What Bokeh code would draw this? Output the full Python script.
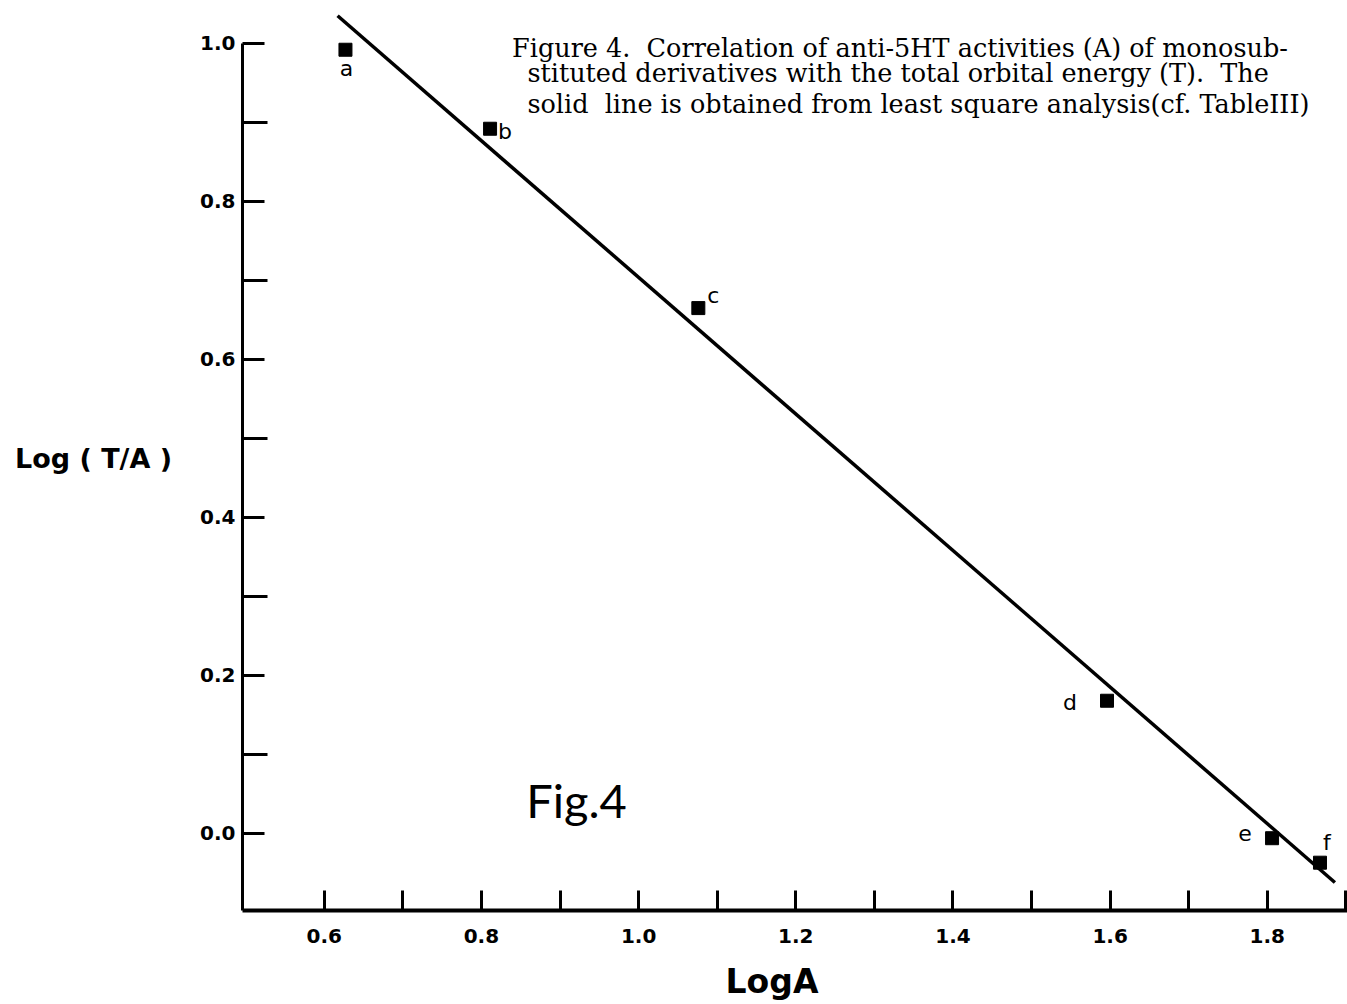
from bokeh.plotting import figure
from bokeh.models import ColumnDataSource, FixedTicker, Label, LabelSet, Range1d, PrintfTickFormatter
from bokeh.core.properties import value
from bokeh.embed import file_html
from bokeh.resources import INLINE

# ---- data ----
log_a = [0.627, 0.811, 1.076, 1.596, 1.806, 1.867]
log_ta = [0.992, 0.892, 0.665, 0.168, -0.006, -0.037]
point_names = ["a", "b", "c", "d", "e", "f"]
fit_x = [0.617, 1.886]
fit_y = [1.035, -0.062]
x_major = [0.6, 0.8, 1.0, 1.2, 1.4, 1.6, 1.8]
x_minor = [0.7, 0.9, 1.1, 1.3, 1.5, 1.7, 1.9]
y_major = [0.0, 0.2, 0.4, 0.6, 0.8, 1.0]
y_minor = [0.1, 0.3, 0.5, 0.7, 0.9]
NB = "\u00a0"
caption = [
    "Figure 4." + NB + " Correlation of anti-5HT activities (A) of monosub-",
    "stituted derivatives with the total orbital energy (T)." + NB + " The",
    "solid" + NB + " line is obtained from least square analysis(cf. TableIII)",
]
# label offsets (pixels, right / up) for the point letters
lab_dx = [1, 15, 15, -37, -27, 7]
lab_dy = [-19, -3, 13, -2, 5, 20]

p = figure(width=1347, height=1004, output_backend="svg", toolbar_location=None,
           x_range=Range1d(0.496, 1.902), y_range=Range1d(-0.0975, 1.048),
           min_border_left=242, min_border_right=0, min_border_top=5,
           min_border_bottom=94)
p.outline_line_color = None
p.xgrid.visible = False
p.ygrid.visible = False
p.background_fill_color = "white"
p.border_fill_color = "white"

tick_font = "DejaVu Sans"

xa = p.xaxis[0]
xa.ticker = FixedTicker(ticks=x_major, minor_ticks=x_minor)
xa.formatter = PrintfTickFormatter(format="%.1f")
xa.axis_line_width = 4
xa.major_tick_line_width = 3
xa.minor_tick_line_width = 3
xa.major_tick_in = 20
xa.major_tick_out = 0
xa.minor_tick_in = 20
xa.minor_tick_out = 0
xa.major_label_standoff = 18
xa.major_label_text_font = tick_font
xa.major_label_text_font_style = "bold"
xa.major_label_text_font_size = "20px"
xa.major_label_text_color = "black"
xa.axis_label = "LogA" + NB * 4
xa.axis_label_text_font = "DejaVu Sans"
xa.axis_label_text_font_style = "bold"
xa.axis_label_text_font_size = "33px"
xa.axis_label_text_color = "black"
xa.axis_label_standoff = 16

ya = p.yaxis[0]
ya.ticker = FixedTicker(ticks=y_major, minor_ticks=y_minor)
ya.formatter = PrintfTickFormatter(format="%.1f")
ya.bounds = (-0.0975, 1.0)
ya.axis_line_width = 3
ya.major_tick_line_width = 3
ya.minor_tick_line_width = 3
ya.major_tick_in = 22
ya.major_tick_out = 0
ya.minor_tick_in = 25
ya.minor_tick_out = 0
ya.major_label_standoff = 7
ya.major_label_text_font = tick_font
ya.major_label_text_font_style = "bold"
ya.major_label_text_font_size = "20px"
ya.major_label_text_color = "black"
ya.axis_label = "Log ( T/A )"
ya.axis_label_orientation = "horizontal"
ya.axis_label_text_font = "DejaVu Sans"
ya.axis_label_text_font_style = "bold"
ya.axis_label_text_font_size = "27px"
ya.axis_label_text_color = "black"
ya.axis_label_standoff = 25

# regression line
p.line(fit_x, fit_y, line_width=3.5, line_color="black")

# points
src = ColumnDataSource(dict(x=log_a, y=log_ta, name=point_names, dx=lab_dx, dy=lab_dy))
p.scatter("x", "y", source=src, marker="square", size=13, fill_color="black", line_color="black")
p.add_layout(LabelSet(x="x", y="y", text="name", source=src, x_offset="dx", y_offset="dy",
                      text_align="center", text_baseline="middle",
                      text_font=value("DejaVu Sans"), text_font_size=value("22px"),
                      text_color="black"))

# caption
cap_x = [0.839, 0.8585, 0.8585]
cap_y = [0.9947, 0.962, 0.923]
for t, cx, cy in zip(caption, cap_x, cap_y):
    p.add_layout(Label(x=cx, y=cy, text=t, text_font="DejaVu Serif", text_font_size="25.5px",
                       text_baseline="alphabetic", text_align="left", text_color="black"))

# Fig.4
p.add_layout(Label(x=0.857, y=0.042, text="Fig.4", text_font="Lato", text_font_size="47px",
                   text_baseline="alphabetic", text_align="left", text_color="black"))

open("out.html", "w").write(file_html(p, INLINE))
